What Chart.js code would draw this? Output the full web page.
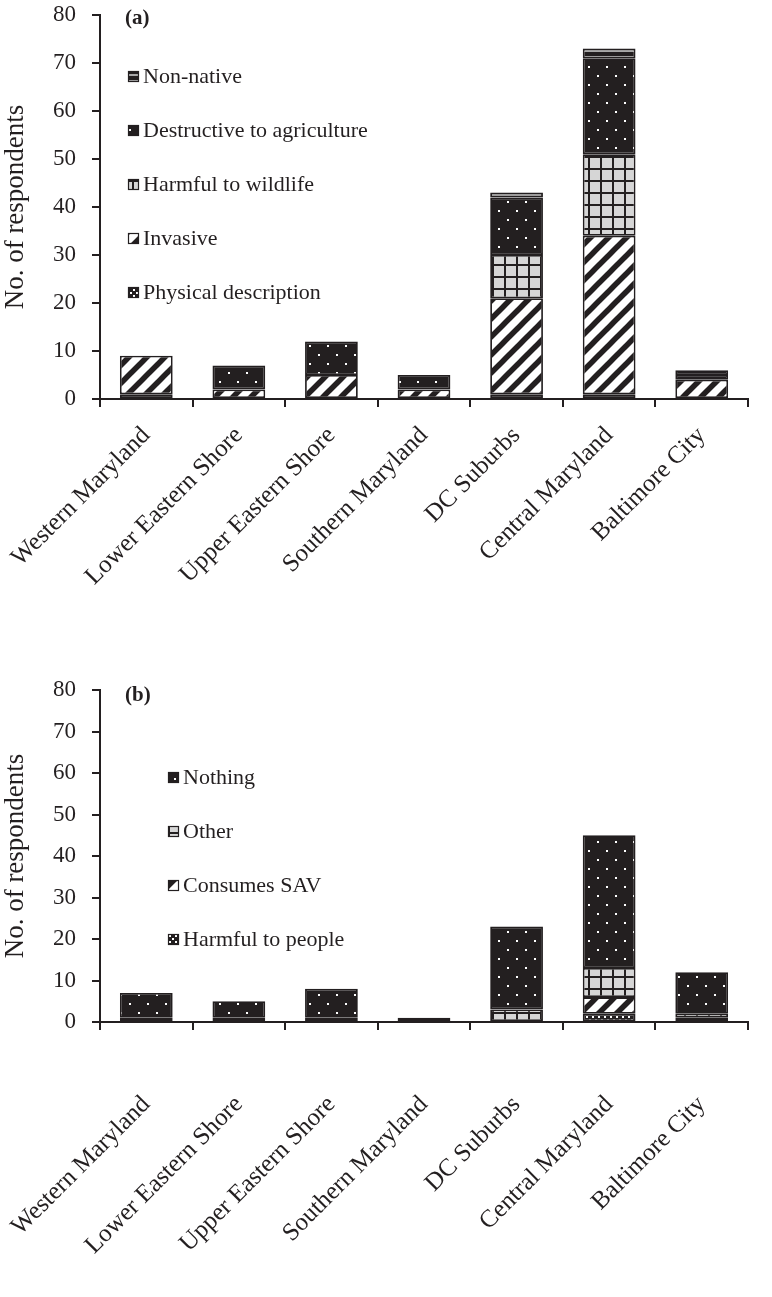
<!DOCTYPE html>
<html>
<head>
<meta charset="utf-8">
<script src="https://cdn.jsdelivr.net/npm/chart.js@4/dist/chart.umd.min.js"></script>
<style>
  html, body { margin: 0; padding: 0; background: #fff; }
  body { width: 772px; height: 1297px; position: relative; overflow: hidden; }
  .panel { position: absolute; left: 0; width: 772px; }
  #wrapA { top: 0; height: 640px; }
  #wrapB { top: 640px; height: 657px; }
</style>
</head>
<body>
<div id="wrapA" class="panel"><canvas id="chartA"></canvas></div>
<div id="wrapB" class="panel"><canvas id="chartB"></canvas></div>
<script>
// Regions of Maryland (x-axis categories, shared by both panels)
const regions = ['Western Maryland', 'Lower Eastern Shore', 'Upper Eastern Shore',
  'Southern Maryland', 'DC Suburbs', 'Central Maryland', 'Baltimore City'];

// y-axis ticks (both panels)
const yTicks = [0, 10, 20, 30, 40, 50, 60, 70, 80];

// Panel (a): what respondents know about the species
const physicalDescription = [1, 0, 0, 0, 1, 1, 0];
const invasive = [8, 2, 5, 2, 20, 33, 4];
const harmfulToWildlife = [0, 0, 0, 0, 9, 17, 0];
const destructiveToAgriculture = [0, 5, 7, 3, 12, 20, 1];
const nonNative = [0, 0, 0, 0, 1, 2, 1];

// Panel (b): perceived impacts
const harmfulToPeople = [1, 1, 1, 0, 0, 2, 0];
const consumesSAV = [0, 0, 0, 0, 0, 4, 1];
const otherImpact = [0, 0, 0, 0, 3, 7, 1];
const nothingImpact = [6, 4, 7, 1, 20, 32, 10];

const INK = '#231f20';
const FONT = '"Liberation Serif", "DejaVu Serif", serif';

// ---- fill patterns ----
function makePattern(w, h, draw) {
  const c = document.createElement('canvas');
  c.width = w; c.height = h;
  const g = c.getContext('2d');
  draw(g, w, h);
  return document.createElement('canvas').getContext('2d').createPattern(c, 'repeat');
}
const patChecker = makePattern(6, 6, (g) => {
  g.fillStyle = INK; g.fillRect(0, 0, 6, 6);
  g.fillStyle = '#ffffff'; g.fillRect(1, 1, 2, 2); g.fillRect(4, 4, 2, 2);
});
const patHatch = makePattern(18, 18, (g, w, h) => {
  g.fillStyle = '#ffffff'; g.fillRect(0, 0, w, h);
  g.strokeStyle = INK; g.lineWidth = 5.5; g.lineCap = 'square';
  for (const o of [-w, 0, w]) {
    g.beginPath(); g.moveTo(o, h); g.lineTo(o + w, 0); g.stroke();
  }
});
const patGrid = makePattern(12, 12, (g) => {
  g.fillStyle = '#d6d6d6'; g.fillRect(0, 0, 12, 12);
  g.fillStyle = INK; g.fillRect(0, 0, 12, 2); g.fillRect(0, 0, 2, 12);
});
const patDots = makePattern(18, 18, (g) => {
  g.fillStyle = INK; g.fillRect(0, 0, 18, 18);
  g.fillStyle = '#ffffff'; g.fillRect(3, 3, 2, 2); g.fillRect(12, 12, 2, 2);
});
const patStripe = makePattern(6, 6, (g) => {
  g.fillStyle = INK; g.fillRect(0, 0, 6, 6);
  g.fillStyle = '#a8a8a8'; g.fillRect(0, 2, 6, 2);
});

function ds(label, data, pattern) {
  return {
    label, data, backgroundColor: pattern,
    borderColor: INK, borderWidth: 1.8, borderSkipped: false,
    categoryPercentage: 1, barPercentage: 0.57
  };
}

// Legend drawn inside the plot area, top item first
const insideLegend = {
  id: 'insideLegend',
  afterDraw(chart, args, opts) {
    const ctx = chart.ctx;
    ctx.save();
    ctx.font = `${opts.fontSize}px ${FONT}`;
    ctx.textBaseline = 'middle';
    const sets = chart.data.datasets.slice().reverse();
    sets.forEach((d, i) => {
      const y = opts.y + i * opts.dy;
      ctx.fillStyle = d.backgroundColor;
      ctx.fillRect(opts.x, y - 5, 11, 11);
      ctx.strokeStyle = INK; ctx.lineWidth = 1.2;
      ctx.strokeRect(opts.x + 0.5, y - 4.5, 10, 10);
      ctx.fillStyle = INK;
      ctx.fillText(d.label, opts.x + 15, y + 1);
    });
    ctx.font = `bold ${opts.tagSize}px ${FONT}`;
    ctx.fillText(opts.tag, opts.tagX, opts.tagY);
    ctx.restore();
  }
};

function makeChart(id, datasets, cfg) {
  return new Chart(document.getElementById(id), {
    type: 'bar',
    data: { labels: regions, datasets },
    plugins: [insideLegend],
    options: {
      responsive: true,
      maintainAspectRatio: false,
      animation: false,
      layout: { padding: { top: cfg.top, right: 24, left: 0, bottom: 0 } },
      plugins: {
        legend: { display: false },
        tooltip: { enabled: false },
        insideLegend: cfg.legend
      },
      scales: {
        x: {
          stacked: true,
          border: { display: true, color: INK, width: 2 },
          grid: { display: true, offset: true, drawOnChartArea: false, tickLength: 8, color: INK, lineWidth: 2 },
          ticks: {
            color: INK, font: { family: FONT, size: 25 },
            minRotation: 45, maxRotation: 45, padding: cfg.labelPad, autoSkip: false
          },
          afterFit(scale) {
            scale.height = cfg.xHeight;
            // rotated labels may hang past the plot edges; keep the plot box fixed
            scale.paddingLeft = 0;
            scale.paddingRight = 0;
          }
        },
        y: {
          stacked: true,
          min: yTicks[0], max: yTicks[yTicks.length - 1],
          afterBuildTicks(scale) { scale.ticks = yTicks.map(v => ({ value: v })); },
          border: { display: true, color: INK, width: 2 },
          grid: { display: true, drawOnChartArea: false, tickLength: 8, color: INK, lineWidth: 2 },
          ticks: { color: INK, font: { family: FONT, size: 23 }, padding: 16 },
          title: {
            display: true, text: 'No. of respondents', color: INK,
            font: { family: FONT, size: 27 }, padding: { top: 0, bottom: 0 }
          },
          afterFit(scale) {
            scale.width = 100;
            scale.paddingTop = 0;
            scale.paddingBottom = 0;
          }
        }
      }
    }
  });
}

makeChart('chartA', [
  ds('Physical description', physicalDescription, patChecker),
  ds('Invasive', invasive, patHatch),
  ds('Harmful to wildlife', harmfulToWildlife, patGrid),
  ds('Destructive to agriculture', destructiveToAgriculture, patDots),
  ds('Non-native', nonNative, patStripe)
], {
  top: 15, xHeight: 241, labelPad: 14,
  legend: { x: 128, y: 76, dy: 54, fontSize: 22, tagSize: 21, tag: '(a)', tagX: 125, tagY: 19 }
});

makeChart('chartB', [
  ds('Harmful to people', harmfulToPeople, patChecker),
  ds('Consumes SAV', consumesSAV, patHatch),
  ds('Other', otherImpact, patGrid),
  ds('Nothing', nothingImpact, patDots)
], {
  top: 50, xHeight: 275, labelPad: 60,
  legend: { x: 168, y: 137, dy: 54, fontSize: 22, tagSize: 21, tag: '(b)', tagX: 125, tagY: 56 }
});
</script>
</body>
</html>
